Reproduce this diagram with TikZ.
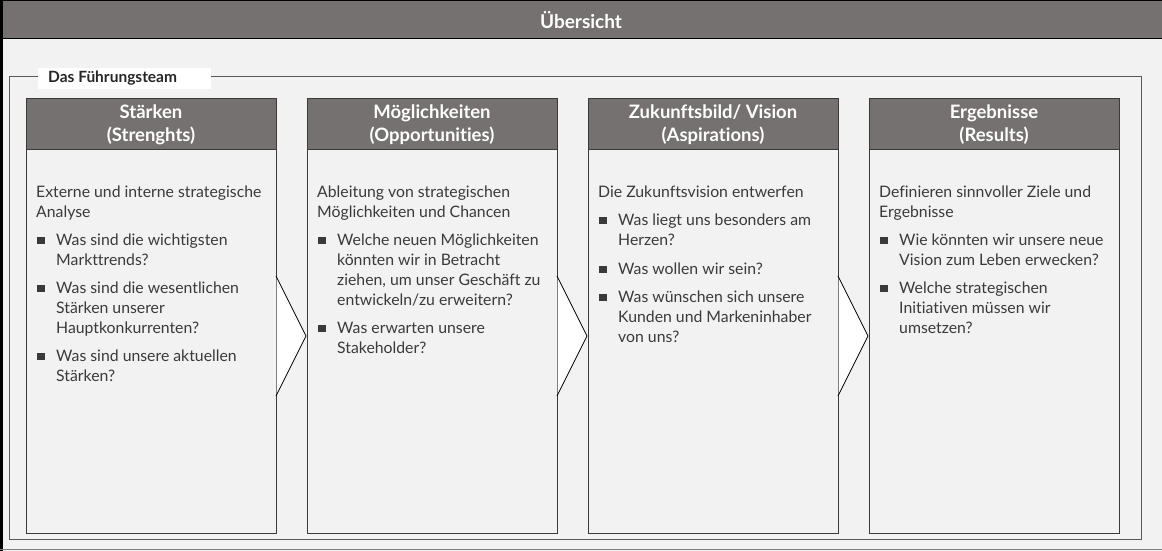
\documentclass[tikz,border=0pt]{standalone}
\usepackage{fontspec}
\setmainfont{Lato}[Ligatures={NoCommon}]
\definecolor{hdr}{HTML}{767171}
\definecolor{bg}{HTML}{F2F2F2}
\definecolor{txtc}{HTML}{3A3A3A}
\definecolor{frm}{HTML}{595959}
\newcounter{lnc}
\newcommand\myline[3]{\node[bodytxt] (ln\thelnc) at (#1,#2) {#3};\stepcounter{lnc}}
\newcommand\mybul[2]{\fill[txtc] (#1+11,#2-9) rectangle (#1+18.5,#2-1.5);}
\begin{document}
\begin{tikzpicture}[x=1pt,y=-1pt,
  bodytxt/.style={anchor=base west,inner sep=0pt,text=txtc,font=\fontsize{15.8}{20}\selectfont},
  hdrtxt/.style={text=white,font=\bfseries\fontsize{18.5}{23}\selectfont,align=center},
  colbox/.style={draw=txtc,line width=1.1pt,fill=bg,minimum width=250pt,minimum height=384pt,inner sep=0pt,anchor=north west},
  colhdr/.style={draw=txtc,line width=1.1pt,fill=hdr,minimum width=250pt,minimum height=51pt,inner sep=0pt,anchor=north west},
  arrowtri/.style={fill=white},
  arrowedge/.style={draw=black,line width=0.8pt}]
\useasboundingbox (0,0) rectangle (1162,551);
\fill[bg] (0,0) rectangle (1162,551);
% title bar
\node[fill=hdr,minimum width=1161pt,minimum height=39pt,inner sep=0pt,anchor=north west] (titlebg) at (1,0) {};
\node[text=white,font=\bfseries\fontsize{19}{22}\selectfont,inner sep=0pt] (title) at (581,20) {Übersicht};
\draw[black,line width=1pt] (1,39) -- (1162,39);
\draw[black,line width=1pt] (0,0.5) -- (1162,0.5);
\fill[black] (0,0) rectangle (3,551);
\draw[gray,line width=1pt] (0,549.5) -- (1162,549.5);
% group frame
\draw[frm,line width=1pt] (9.5,77) rectangle (1141.5,539);
\node[fill=white,minimum width=173pt,minimum height=21pt,inner sep=0pt,anchor=north west] (grpbg) at (38,68) {};
\node[anchor=west,inner sep=0pt,text=black!85,font=\bfseries\fontsize{15.5}{18}\selectfont] (grp) at (48,78.5) {Das Führungsteam};
% columns
\foreach \i/\x/\a/\b in {1/26/Stärken/(Strenghts),2/307/Möglichkeiten/(Opportunities),3/588/{Zukunftsbild/ Vision}/(Aspirations),4/869/Ergebnisse/(Results)}{
  \node[colbox] (body\i) at (\x,149) {};
  \node[colhdr] (hdr\i) at (\x,98) {};
  \node[hdrtxt,inner sep=0pt] (hdrt\i) at (\x+125,124.5) {\a\\\b};
}
% arrows
\foreach \x in {276,557,838}{
  \fill[arrowtri] (\x+0.6,277) -- (\x+30,336) -- (\x+0.6,395) -- cycle;
  \draw[arrowedge] (\x,276) -- (\x+30,336) -- (\x,396);
}
% column 1
\myline{36}{197.5}{Externe und interne strategische}
\myline{36}{217.5}{Analyse}
\mybul{26}{245.5}
\myline{56}{245.5}{Was sind die wichtigsten}
\myline{56}{265.5}{Markttrends?}
\mybul{26}{293.5}
\myline{56}{293.5}{Was sind die wesentlichen}
\myline{56}{313.5}{Stärken unserer}
\myline{56}{333.5}{Hauptkonkurrenten?}
\mybul{26}{361.5}
\myline{56}{361.5}{Was sind unsere aktuellen}
\myline{56}{381.5}{Stärken?}
% column 2
\myline{317}{197.5}{Ableitung von strategischen}
\myline{317}{217.5}{Möglichkeiten und Chancen}
\mybul{307}{245.5}
\myline{337}{245.5}{Welche neuen Möglichkeiten}
\myline{337}{265.5}{könnten wir in Betracht}
\myline{337}{285.5}{ziehen, um unser Geschäft zu}
\myline{337}{305.5}{entwickeln/zu erweitern?}
\mybul{307}{333.5}
\myline{337}{333.5}{Was erwarten unsere}
\myline{337}{353.5}{Stakeholder?}
% column 3
\myline{598}{197.5}{Die Zukunftsvision entwerfen}
\mybul{588}{225.5}
\myline{618}{225.5}{Was liegt uns besonders am}
\myline{618}{245.5}{Herzen?}
\mybul{588}{274.5}
\myline{618}{274.5}{Was wollen wir sein?}
\mybul{588}{302.5}
\myline{618}{302.5}{Was wünschen sich unsere}
\myline{618}{322.5}{Kunden und Markeninhaber}
\myline{618}{342.5}{von uns?}
% column 4
\myline{879}{197.5}{Definieren sinnvoller Ziele und}
\myline{879}{217.5}{Ergebnisse}
\mybul{869}{245.5}
\myline{899}{245.5}{Wie könnten wir unsere neue}
\myline{899}{265.5}{Vision zum Leben erwecken?}
\mybul{869}{293.5}
\myline{899}{293.5}{Welche strategischen}
\myline{899}{313.5}{Initiativen müssen wir}
\myline{899}{333.5}{umsetzen?}
\end{tikzpicture}
\end{document}
